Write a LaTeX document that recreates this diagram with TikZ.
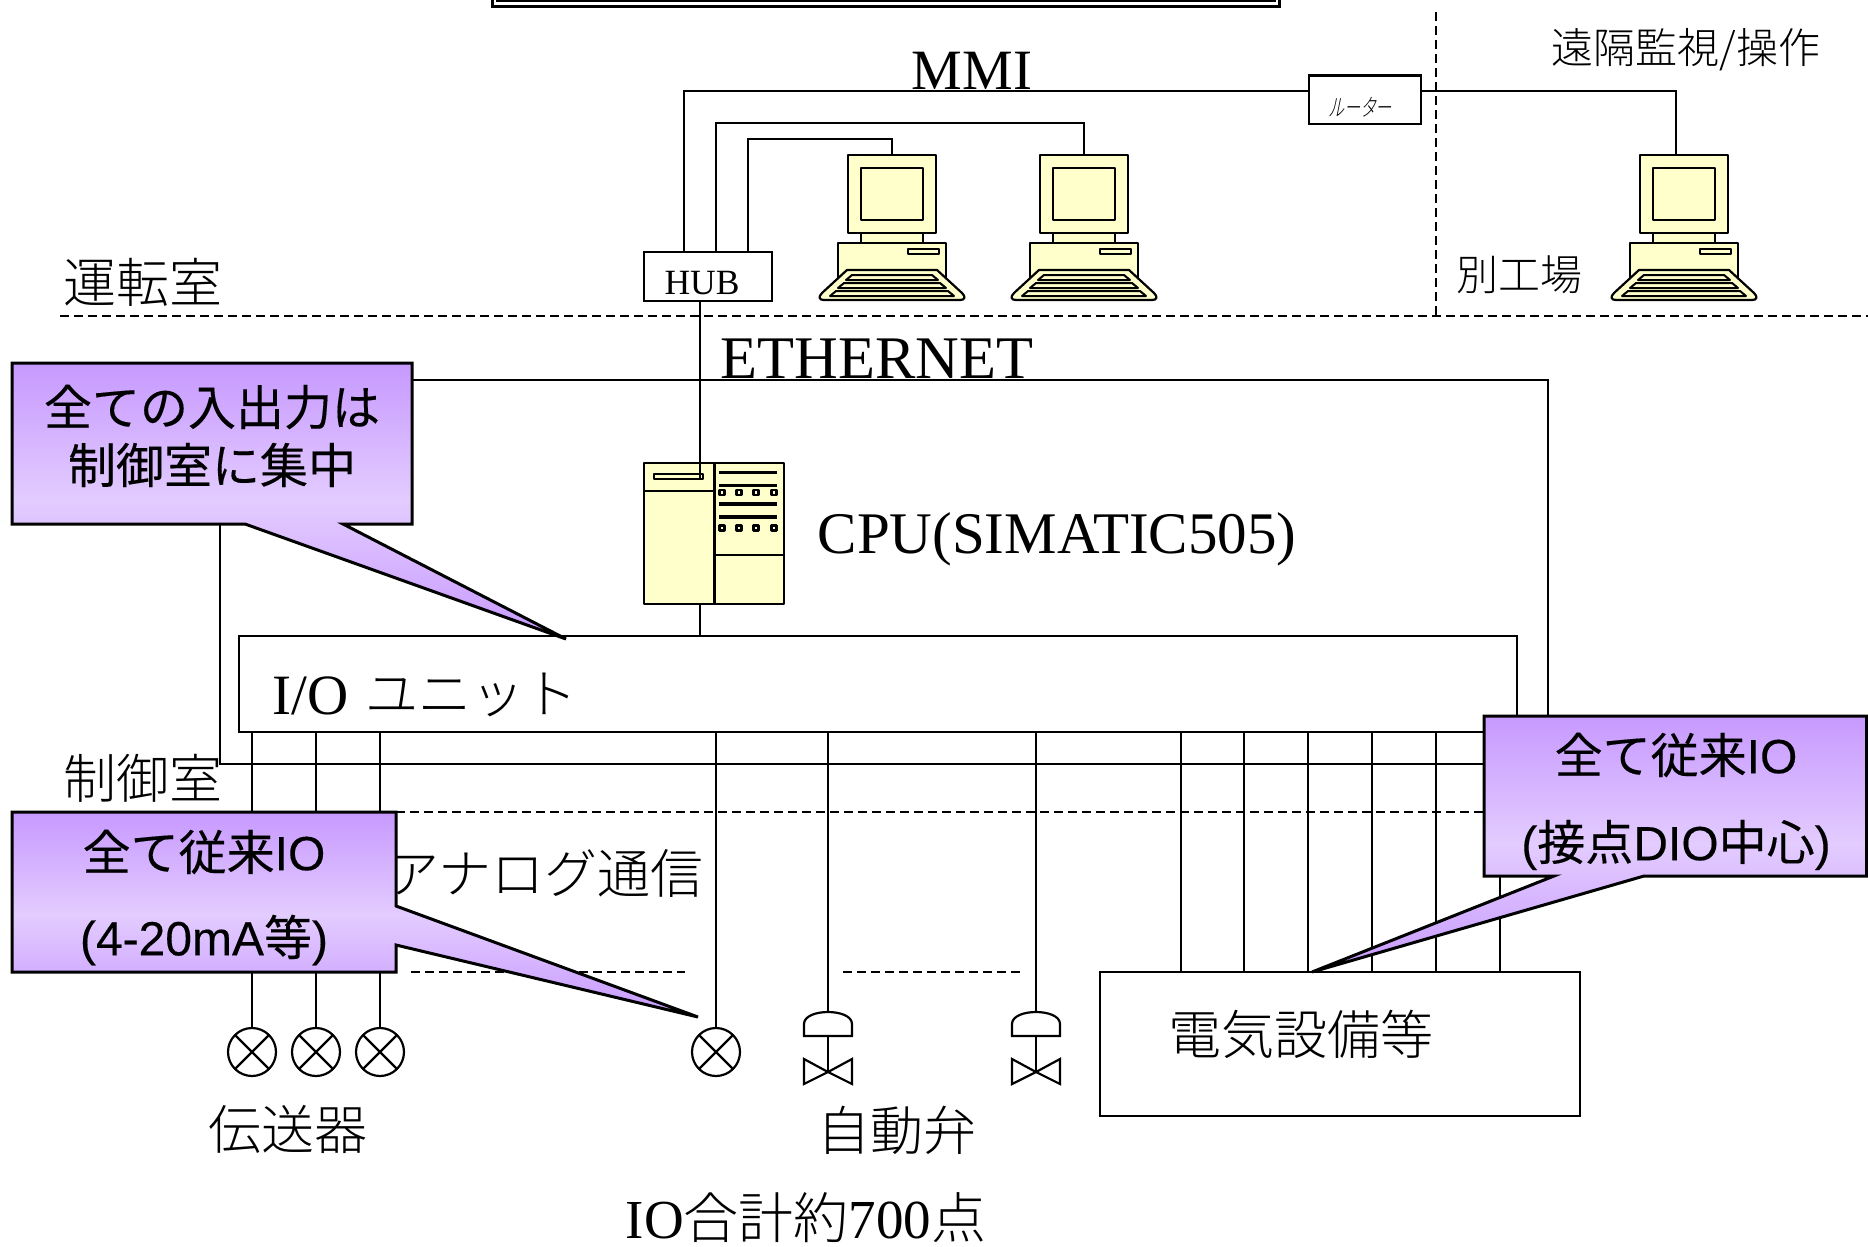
\documentclass[tikz,border=0pt]{standalone}
\usepackage{fontspec}
\setmainfont{Liberation Serif}
\newfontfamily\jpf{Noto Sans CJK JP}[UprightFont=* Light]
\newfontfamily\jpc{Noto Sans CJK JP}[FakeBold=0.25]
\newfontfamily\jpr{Noto Sans CJK JP}[UprightFont=* Light,FakeSlant=0.2,FakeStretch=0.66]
\newfontfamily\lsans{Liberation Sans}[FakeBold=0.25]
\usetikzlibrary{calc}
\definecolor{cream}{HTML}{FFFFCC}
\definecolor{ctop}{HTML}{C799FF}
\definecolor{cmid}{HTML}{E3CCFF}
\tikzset{
  x=1pt,y=-1pt,
  ln/.style={draw=black,line width=2.2pt},
  wire/.style={draw=black,line width=2.2pt},
  dash line/.style={draw=black,line width=2pt,dash pattern=on 9pt off 5pt},
  box/.style={draw=black,line width=2.2pt,fill=white},
  cr/.style={draw=black,line width=2.2pt,fill=cream,line join=round},
  lab/.style={inner sep=0pt,text=black,anchor=center},
  serif57/.style={lab,font=\fontsize{57}{57}\selectfont},
  jp52/.style={lab,font=\jpf\fontsize{53}{53}\selectfont},
  jp42/.style={lab,font=\jpf\fontsize{42}{42}\selectfont},
  call/.style={draw=black,line width=3pt,top color=ctop,bottom color=ctop,middle color=cmid,line join=miter,miter limit=6},
  calltxt/.style={lab,align=center,font=\lsans\fontsize{48}{48}\selectfont},
  pc/.pic={
    \path[cr] (-44,155) rectangle (44,233);
    \path[cr] (-31,168) rectangle (31,220);
    \path[cr] (-31,233) rectangle (31,243);
    \path[cr] (-54,243) rectangle (54,285);
    \path[cr] (16,249) rectangle (47,254);
    \path[cr] (-45,270) -- (45,270) -- (70,293) .. controls (74,297) and (73,300) .. (68,300) -- (-68,300) .. controls (-73,300) and (-74,297) .. (-70,293) -- cycle;
    \path[cr,line width=2pt] (-40,275) -- (40,275) -- (46,280) -- (-46,280) -- cycle;
    \path[cr,line width=2pt] (-48,283) -- (48,283) -- (54,288) -- (-54,288) -- cycle;
    \path[cr,line width=2pt] (-56,291) -- (56,291) -- (62,296) -- (-62,296) -- cycle;
  },
  gauge/.pic={
    \path[ln,fill=white] (0,0) circle (24);
    \draw[ln] (-17,-17) -- (17,17) (-17,17) -- (17,-17);
  },
  valve/.pic={
    \path[ln,fill=white] (-24,24) -- (-24,12) .. controls (-24,4) and (-12,0) .. (0,0) .. controls (12,0) and (24,4) .. (24,12) -- (24,24) -- cycle;
    \draw[ln] (0,24) -- (0,60);
    \draw[ln] (0,60) -- (-24,47) -- (-24,72) -- cycle;
    \draw[ln] (0,60) -- (24,47) -- (24,72) -- cycle;
  },
}
\begin{document}
\begin{tikzpicture}[x=1pt,y=-1pt]
\useasboundingbox (0,0) rectangle (1868,1247);
\fill[white] (0,0) rectangle (1868,1247);
% top box clipped by the page
\draw[line width=3pt] (492,-5) -- (492,6.5) -- (1279,6.5) -- (1279,-5);
\draw[line width=3pt] (497,-5) -- (497,0.5) -- (1274,0.5) -- (1274,-5);
% zones
\coordinate (zl) at (60,316); \coordinate (zr) at (1868,316);
\coordinate (zt) at (1436,12); \coordinate (zb) at (1436,316);
\draw[dash line] (zl) -- (zr);
\draw[dash line] (zt) -- (zb);
\coordinate (al) at (396,812); \coordinate (ar) at (1484,812);
\draw[dash line] (al) -- (ar);
\coordinate (d1a) at (411,972); \coordinate (d1b) at (685,972);
\coordinate (d2a) at (843,972); \coordinate (d2b) at (1021,972);
\draw[dash line] (d1a) -- (d1b);
\draw[dash line] (d2a) -- (d2b);
% control-room frame
\coordinate (f1) at (412,380); \coordinate (f2) at (1548,380); \coordinate (f3) at (1548,716);
\coordinate (f4) at (220,524); \coordinate (f5) at (220,764); \coordinate (f6) at (1484,764);
\draw[wire] (f1) -- (f2) -- (f3);
\draw[wire] (f4) -- (f5) -- (f6);
% HUB, router
\node[box,minimum width=128pt,minimum height=49pt,inner sep=0pt,anchor=north west] (hub) at (643,250.5) {};
\node[lab,font=\fontsize{35.5}{36}\selectfont,anchor=base] (hubt) at (702,294) {HUB};
\node[box,minimum width=112pt,minimum height=48pt,inner sep=0pt,anchor=north west] (router) at (1307.5,74.5) {};
\node[lab,font=\jpr\fontsize{24}{24}\selectfont] (routert) at (1360,107) {ルーター};
% PCs
\pic at (892,0) {pc};
\pic at (1084,0) {pc};
\pic at (1684,0) {pc};
\coordinate (pc1) at (892,155); \coordinate (pc2) at (1084,155); \coordinate (pc3) at (1676,155);
\coordinate (h1) at (684,251); \coordinate (h2) at (716,251); \coordinate (h3) at (748,251);
\coordinate (rl) at (1308,91); \coordinate (rr) at (1420,91);
\draw[wire] (h1) |- (rl);
\draw[wire] (rr) -| (pc3);
\draw[wire] (h2) -- (716,123) -| (pc2);
\draw[wire] (h3) -- (748,139) -| (pc1);
% CPU
\path[cr] (644,463) rectangle (784,604);
\draw[line width=2.2pt] (644,491) -- (714,491);
\draw[line width=2.2pt] (714,555) -- (784,555);
\draw[line width=3pt] (714,463) -- (714,604);
\path[cr] (654,474) rectangle (703,479);
\foreach \yy/\lw in {472.5/3.5,485.5/3.5,504/3.5,517/4.5}{\draw[line width=\lw pt] (719,\yy) -- (777,\yy);}
\foreach \yy in {492.5,528}{\foreach \xx in {722,739,756,774}{\path[cr,fill=cream] (\xx-2.5,\yy-2.5) rectangle (\xx+2.5,\yy+2.5);}}
\coordinate (cpuT) at (700,479); \coordinate (cpuB) at (700,604);
\coordinate (hubB) at (700,300); \coordinate (ioT) at (700,635);
\draw[wire] (hubB) -- (cpuT);
\draw[wire] (cpuB) -- (ioT);
% I/O unit
\node[box,minimum width=1278pt,minimum height=96.5pt,inner sep=0pt,anchor=north west] (io) at (238,634.5) {};
% field wires and devices
\foreach \xx in {252,316,380,716}{
  \draw[wire] (\xx,731) -- (\xx,1028);
  \pic at (\xx,1052) {gauge};
}
\foreach \xx in {828,1036}{
  \draw[wire] (\xx,731) -- (\xx,1012);
  \pic at (\xx,1012) {valve};
}
\foreach \xx in {1181,1244,1308,1372,1436,1500}{\draw[wire] (\xx,731) -- (\xx,972);}
\node[box,minimum width=480pt,minimum height=144pt,inner sep=0pt,anchor=north west] (elec) at (1099,971) {};
% labels
\node[serif57,anchor=base] (mmi) at (972,89) {MMI};
\node[jp42] (remote) at (1686,50) {遠隔監視/操作};
\node[jp52] (unten) at (143,282) {運転室};
\node[jp42] (betsu) at (1519,275) {別工場};
\node[lab,font=\fontsize{60.5}{60}\selectfont,anchor=base] (eth) at (877,378) {ETHERNET};
\node[lab,font=\fontsize{59}{59}\selectfont,anchor=base] (cput) at (1057,553) {CPU(SIMATIC505)};
\node[serif57,anchor=base west] (iot) at (272,714) {I/O};
\node[jp52,anchor=west] (iot2) at (365,695) {ユニット};
\node[jp52] (seigyo) at (143,778) {制御室};
\node[jp52] (analog) at (545,873) {アナログ通信};
\node[jp52] (dens) at (288,1129) {伝送器};
\node[jp52] (jido) at (897,1130) {自動弁};
\node[jp52] (denki) at (1301,1034) {電気設備等};
\node[lab,font=\fontsize{55}{56}\selectfont] (goukei) at (806,1218) {IO{\jpf 合計約}700{\jpf 点}};
% callouts
\path[call] (12,363) -- (412,363) -- (412,524) -- (343,524) -- (566,639) -- (245,524) -- (12,524) -- cycle;
\node[calltxt] (c1a) at (212,407) {{\jpc 全ての入出力は}};
\node[calltxt] (c1b) at (212,465) {{\jpc 制御室に集中}};
\path[call] (12,812) -- (396,812) -- (396,906) -- (698,1017) -- (396,945) -- (396,972) -- (12,972) -- cycle;
\node[calltxt] (c2a) at (204,852) {{\jpc 全て従来}IO};
\node[calltxt] (c2b) at (204,940) {(4-20mA{\jpc 等})};
\path[call] (1484,716) -- (1866.5,716) -- (1866.5,876) -- (1644,876) -- (1312,972) -- (1554,876) -- (1484,876) -- cycle;
\node[calltxt] (c3a) at (1676,755) {{\jpc 全て従来}IO};
\node[calltxt] (c3b) at (1676,845) {({\jpc 接点}DIO{\jpc 中心})};
\end{tikzpicture}
\end{document}
